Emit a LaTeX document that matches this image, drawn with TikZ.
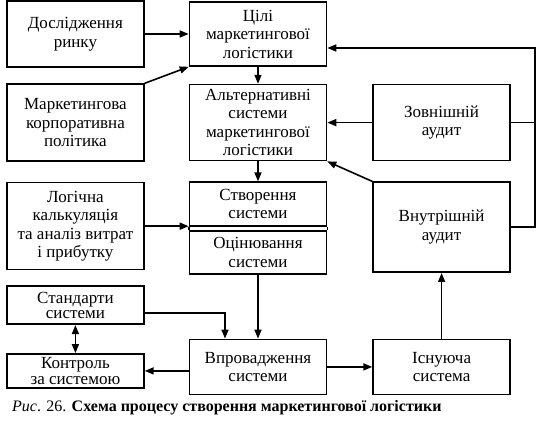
\documentclass[tikz,border=0pt]{standalone}
\usepackage{fontspec}
\setmainfont{Liberation Serif}
\usetikzlibrary{arrows.meta,positioning}

\begin{document}
\begin{tikzpicture}[
  x=1pt, y=1pt,
  block/.style={draw, line width=1.6pt, minimum width=137pt, align=center, inner sep=1pt, font=\fontsize{17}{18.5}\selectfont},
  tight/.style={font=\fontsize{17}{15.5}\selectfont},
  arr/.style={-{Triangle[length=9pt,width=7pt]}, line width=1.6pt},
  link/.style={line width=1.6pt}
]
  \useasboundingbox (0,0) rectangle (539,-425);
  % central column
  \node[block, minimum height=64pt] (tsili) at (258,-34) {Цілі\\маркетингової\\логістики};
  \node[block, minimum height=76pt, below=17pt of tsili] (alt) {Альтернативні\\системи\\маркетингової\\логістики};
  \node[block, minimum height=44pt, below=20pt of alt] (stvor) {Створення\\системи};
  \node[block, minimum height=43pt, below=3pt of stvor] (otsin) {Оцінювання\\системи};
  \node[block, minimum height=55pt, below=64pt of otsin] (vprov) {Впровадження\\системи};
  % left column
  \node[block, minimum height=66pt, left=44pt of tsili] (rynok) {Дослідження\\ринку};
  \node[block, minimum height=77pt, left=44pt of alt] (polityka) {Маркетингова\\корпоративна\\політика};
  \node[block, minimum height=87pt, below=20pt of polityka] (logic) {Логічна\\калькуляція\\та аналіз витрат\\і прибутку};
  \node[block, tight, minimum height=38pt, below=15pt of logic] (standart) {Стандарти\\системи};
  \node[block, tight, minimum height=34pt, below=28pt of standart] (kontrol) {Контроль\\за системою};
  % right column
  \node[block, minimum height=76pt, right=45pt of alt] (zovn) {Зовнішній\\аудит};
  \node[block, minimum height=90pt, below=20pt of zovn] (vnutr) {Внутрішній\\аудит};
  \node[block, minimum height=55pt, right=45pt of vprov] (isnuy) {Існуюча\\система};
  % caption
  \node[anchor=west, inner sep=0pt, font=\fontsize{16}{18}\selectfont] (caption) at (12,-408)
    {\textit{Рис}. 26. \textbf{Схема процесу створення маркетингової логістики}};

  % double line between the two halves
  \draw[link] (stvor.south west) -- (otsin.north west);
  \draw[link] (stvor.south east) -- (otsin.north east);

  \draw[arr] (rynok) -- (tsili);
  \draw[arr] (polityka.north east) -- (tsili.south west);
  \draw[arr] (tsili) -- (alt);
  \draw[arr] (alt) -- (stvor);
  \draw[arr] (logic.east) -- (logic.east -| stvor.west);
  \draw[arr] (otsin) -- (vprov);
  \draw[arr] ([yshift=-8pt]standart.east) -| ([xshift=-33pt]vprov.north);
  \draw[{Triangle[length=9pt,width=7pt]}-{Triangle[length=9pt,width=7pt]}, line width=1.6pt] (standart) -- (kontrol);
  \draw[arr] (kontrol.east -| vprov.west) -- (kontrol.east);
  \draw[arr] (vprov) -- (isnuy);
  \draw[arr] (isnuy) -- (vnutr);
  \draw[arr] (vnutr.north west) -- (alt.south east);
  \draw[arr] (zovn) -- (alt);
  \draw[arr] (zovn.east) -- ++(24pt,0) |- ([yshift=-14pt]tsili.east);
  \draw[link] (vnutr.east) -- ++(24pt,0) |- (zovn.east);
\end{tikzpicture}
\end{document}
